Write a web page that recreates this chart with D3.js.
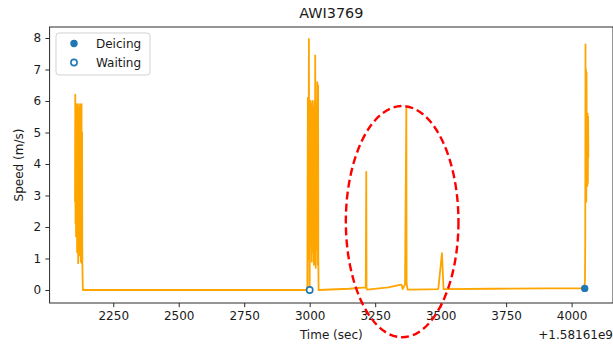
<!DOCTYPE html>
<html>
<head>
<meta charset="utf-8">
<script src="https://cdn.jsdelivr.net/npm/d3@7/dist/d3.min.js"></script>
<style>
  html, body { margin: 0; padding: 0; background: #fff; }
  svg { display: block; font-family: "DejaVu Sans", sans-serif; }
</style>
</head>
<body>
<svg id="chart" width="613" height="346"></svg>
<script>
// ---- data (time in seconds relative to offset 1.58161e9) ----
const chartTitle = "AWI3769";
const xLabel = "Time (sec)";
const yLabel = "Speed (m/s)";
const offsetLabel = "+1.58161e9";

const speedTime = [
  2104, 2105, 2106, 2107, 2108, 2109, 2110, 2111, 2112, 2113, 2114, 2115, 2116, 2117, 2118,
  2119, 2120, 2121, 2122, 2123, 2124, 2125, 2126, 2127, 2128, 2129, 2130, 2131, 2132, 2134,
  2991, 2993, 2995, 2997, 2999, 3000, 3002, 3004, 3006, 3008, 3010, 3012, 3014, 3016, 3018,
  3020, 3021, 3023, 3025, 3027, 3029, 3031, 3032, 3033, 3034,
  3150, 3214, 3216, 3217, 3220, 3300, 3345, 3351, 3355, 3364, 3369, 3370, 3374,
  3450, 3491, 3505, 3511, 3700, 3900, 4046,
  4049, 4051, 4052, 4053, 4054, 4055, 4056, 4057, 4058, 4059, 4060, 4061, 4062, 4063, 4064
];
const speedValue = [
  2.8, 6.2, 2.1, 5.8, 1.7, 5.9, 3.0, 5.8, 1.2, 5.5, 2.5, 5.9, 0.85, 5.7, 1.5,
  5.6, 2.0, 5.8, 1.1, 5.9, 3.2, 5.85, 0.9, 4.5, 1.8, 5.9, 0.85, 5.0, 0.85, 0.0,
  0.0, 6.1, 1.0, 7.97, 0.3, 0.0, 6.0, 1.4, 5.9, 0.9, 6.0, 1.2, 5.8, 0.8, 6.0,
  1.5, 7.45, 0.7, 5.9, 1.3, 6.6, 0.8, 6.5, 0.9, 0.0,
  0.04, 0.08, 3.75, 0.05, 0.01, 0.08, 0.16, 0.16, 0.03, 0.18, 5.78, 0.2, 0.01,
  0.02, 0.03, 1.17, 0.03, 0.04, 0.05, 0.05,
  0.05, 0.3, 1.5, 7.8, 3.0, 7.0, 2.8, 6.9, 3.4, 5.5, 3.3, 5.6, 3.4, 5.5, 4.2
];

const deicingTime = [4050];
const deicingSpeed = [0.05];
const waitingTime = [3000];
const waitingSpeed = [0.0];

const xTicks = [2250, 2500, 2750, 3000, 3250, 3500, 3750, 4000];
const yTicks = [0, 1, 2, 3, 4, 5, 6, 7, 8];

// highlight ellipse (data coords: centre time, centre speed, half-width sec, half-height m/s)
const ellipseCenter = [3353, 2.17];
const ellipseRadius = [215, 3.67];

// ---- layout ----
const svg = d3.select("#chart");
const plot = { left: 49.6, right: 613, top: 27, bottom: 303 };

const x = d3.scaleLinear().domain([2007, 4158]).range([plot.left, plot.right]);
const y = d3.scaleLinear().domain([-0.413, 8.349]).range([plot.bottom, plot.top]);

const textColor = "#1a1a1a";
const fs = 12;

// axes
const xAxis = d3.axisBottom(x).tickValues(xTicks).tickSize(4.2).tickPadding(4.2).tickFormat(d3.format("d"));
const yAxis = d3.axisLeft(y).tickValues(yTicks).tickSize(4.2).tickPadding(4.2).tickFormat(d3.format("d"));

const gx = svg.append("g").attr("transform", `translate(0,${plot.bottom})`).call(xAxis);
const gy = svg.append("g").attr("transform", `translate(${plot.left},0)`).call(yAxis);
[gx, gy].forEach(g => {
  g.select(".domain").remove();
  g.selectAll(".tick line").attr("stroke", "#222").attr("stroke-width", 0.96);
  g.selectAll(".tick text").attr("fill", textColor).attr("font-size", fs)
    .attr("font-family", "DejaVu Sans, sans-serif");
});

// spines
svg.append("rect")
  .attr("x", plot.left).attr("y", plot.top)
  .attr("width", plot.right - plot.left).attr("height", plot.bottom - plot.top)
  .attr("fill", "none").attr("stroke", "#222").attr("stroke-width", 0.96);

// clip for data
svg.append("clipPath").attr("id", "clip").append("rect")
  .attr("x", plot.left).attr("y", plot.top)
  .attr("width", plot.right - plot.left).attr("height", plot.bottom - plot.top);

const dataG = svg.append("g").attr("clip-path", "url(#clip)");

const pts = speedTime.map((t, i) => [t, speedValue[i]]);
dataG.append("path")
  .datum(pts)
  .attr("fill", "none")
  .attr("stroke", "#ffa500")
  .attr("stroke-width", 1.8)
  .attr("stroke-linejoin", "round")
  .attr("d", d3.line().x(d => x(d[0])).y(d => y(d[1])));

const markerColor = "#1f77b4";
dataG.selectAll(".deicing").data(deicingTime).enter().append("circle")
  .attr("cx", d => x(d)).attr("cy", (d, i) => y(deicingSpeed[i]))
  .attr("r", 3.7).attr("fill", markerColor);
dataG.selectAll(".waiting").data(waitingTime).enter().append("circle")
  .attr("cx", d => x(d)).attr("cy", (d, i) => y(waitingSpeed[i]))
  .attr("r", 3.1).attr("fill", "#fff").attr("stroke", markerColor).attr("stroke-width", 1.6);

// title & labels
svg.append("text").attr("x", (plot.left + plot.right) / 2).attr("y", 17.5)
  .attr("text-anchor", "middle").attr("font-size", 14.4).attr("fill", textColor).text(chartTitle);
svg.append("text").attr("x", (plot.left + plot.right) / 2).attr("y", 338.5)
  .attr("text-anchor", "middle").attr("font-size", fs).attr("fill", textColor).text(xLabel);
svg.append("text").attr("x", plot.right).attr("y", 339)
  .attr("text-anchor", "end").attr("font-size", fs).attr("fill", textColor).text(offsetLabel);
svg.append("text")
  .attr("transform", `translate(22.5,${(plot.top + plot.bottom) / 2}) rotate(-90)`)
  .attr("text-anchor", "middle").attr("font-size", fs).attr("fill", textColor).text(yLabel);

// legend
const lg = svg.append("g");
lg.append("rect").attr("x", 56).attr("y", 33).attr("width", 94).attr("height", 42)
  .attr("rx", 3).attr("fill", "#fff").attr("fill-opacity", 0.8)
  .attr("stroke", "#d0d0d0").attr("stroke-width", 0.96);
lg.append("circle").attr("cx", 74).attr("cy", 43.5).attr("r", 3.7).attr("fill", markerColor);
lg.append("circle").attr("cx", 74).attr("cy", 62.5).attr("r", 3.1).attr("fill", "#fff")
  .attr("stroke", markerColor).attr("stroke-width", 1.6);
lg.append("text").attr("x", 96).attr("y", 47.8).attr("font-size", fs).attr("fill", textColor).text("Deicing");
lg.append("text").attr("x", 96).attr("y", 66.8).attr("font-size", fs).attr("fill", textColor).text("Waiting");

// dashed ellipse annotation (not clipped)
const ex = x(ellipseCenter[0]), ey = y(ellipseCenter[1]);
const erx = x(ellipseCenter[0] + ellipseRadius[0]) - ex;
const ery = ey - y(ellipseCenter[1] + ellipseRadius[1]);
svg.append("ellipse")
  .attr("cx", ex).attr("cy", ey).attr("rx", erx).attr("ry", ery)
  .attr("fill", "none").attr("stroke", "#ff0000").attr("stroke-width", 2.4)
  .attr("stroke-dasharray", "8,4");
</script>
</body>
</html>
